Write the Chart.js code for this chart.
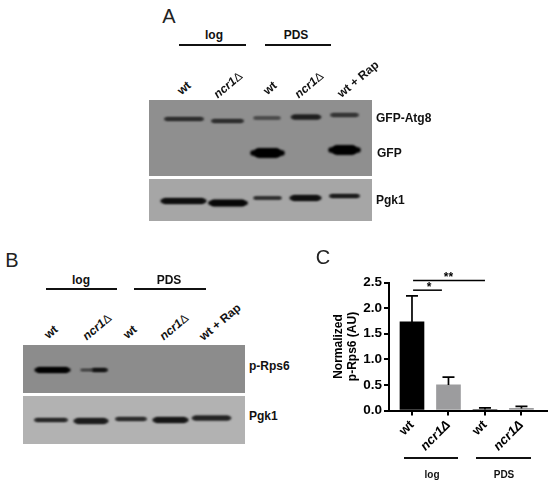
<!DOCTYPE html>
<html>
<head>
<meta charset="utf-8">
<title>Blots and p-Rps6</title>
<script src="https://cdn.jsdelivr.net/npm/chart.js@4"></script>
<style>
  body { margin: 0; background: #fff; width: 550px; height: 483px; position: relative; overflow: hidden; font-family: "Liberation Sans", Arial, sans-serif; }
  canvas { position: absolute; }
  .t { position: absolute; font-weight: bold; font-size: 12px; color: #111; white-space: nowrap; transform: translate(-50%, -50%); }
  .l { transform: translate(0, -50%); }
  .r { transform: translate(-50%, -50%) rotate(-40deg); }
  .letter { font-weight: normal; font-size: 20px; color: #222; }
  .rule { position: absolute; background: #111; height: 1.5px; }
  i span { font-style: normal; font-weight: normal; }
</style>
</head>
<body>
<canvas id="blotA1" width="223" height="76" style="left:149px;top:100px"></canvas>
<canvas id="blotA2" width="223" height="42" style="left:149px;top:179px"></canvas>
<canvas id="blotB1" width="222" height="48" style="left:23px;top:345px"></canvas>
<canvas id="blotB2" width="222" height="48" style="left:23px;top:396px"></canvas>
<canvas id="quant" width="230" height="243" style="left:320px;top:240px"></canvas>

<script>
// ---------- panel C values ----------
const categories = ['wt', 'ncr1Δ', 'wt', 'ncr1Δ'];
const means = [1.73, 0.50, 0.02, 0.04];
const upperErrors = [2.24, 0.65, 0.05, 0.08];
const barColors = ['#000000', '#9c9c9e', '#000000', '#9c9c9e'];
const yTicks = [0, 0.5, 1, 1.5, 2, 2.5];

// significance brackets, in category index / axis units
const sigLong = [{x: 0.03, y: 2.54}, {x: 2, y: 2.54}];
const sigShort = [{x: 0.03, y: 2.35}, {x: 0.82, y: 2.35}];

// ---------- blots: lane start, lane end, migration, band thickness, band grey ----------
const a1Start = [15, 62, 104, 142, 181, 103, 181];
const a1End = [55, 95, 132, 172, 210, 134, 210];
const a1Level = [19, 21, 18, 17, 15, 53, 50];
const a1Thick = [4, 4, 3, 5, 4, 10, 10];
const a1Grey = ['#2c2c2c', '#2c2c2c', '#444444', '#1e1e1e', '#333333', '#000000', '#000000'];

const a2Start = [12, 60, 104, 141, 180];
const a2End = [57, 98, 133, 172, 211];
const a2Level = [22, 24, 19, 19, 17];
const a2Thick = [6, 7, 3, 6, 4];
const a2Grey = ['#0e0e0e', '#080808', '#222222', '#111111', '#1a1a1a'];

const b1Start = [12, 57, 68];
const b1End = [47, 70, 85];
const b1Level = [25, 25, 25];
const b1Thick = [6, 2, 4];
const b1Grey = ['#020202', '#333333', '#111111'];

const b2Start = [11, 51, 92, 130, 169];
const b2End = [45, 85, 124, 165, 208];
const b2Level = [24, 25, 23, 24, 22];
const b2Thick = [4, 6, 4, 6, 5];
const b2Grey = ['#262626', '#1c1c1c', '#2a2a2a', '#161616', '#222222'];

// each band is a thin full-length stroke plus a thicker core, so the ends taper a little
function bandSets(start, end, level, thick, grey) {
    const sets = [];
    start.forEach(function(s, i) {
        const t = thick[i];
        const inset = t * 0.65 + 0.5;
        const base = { borderColor: grey[i], borderCapStyle: 'round', pointRadius: 0 };
        sets.push(Object.assign({}, base, {
            data: [{x: s + 1, y: level[i]}, {x: end[i] - 1, y: level[i]}],
            borderWidth: t * 0.55
        }));
        sets.push(Object.assign({}, base, {
            data: [{x: s + inset, y: level[i]}, {x: end[i] - inset, y: level[i]}],
            borderWidth: t
        }));
    });
    return sets;
}

function blot(id, bg, start, end, level, thick, grey) {
    const cv = document.getElementById(id);
    new Chart(cv, {
        type: 'line',
        data: { datasets: bandSets(start, end, level, thick, grey) },
        options: {
            responsive: false,
            animation: false,
            layout: { padding: 0 },
            plugins: { legend: { display: false }, tooltip: { enabled: false } },
            scales: {
                x: { type: 'linear', min: 0, max: cv.width, display: false },
                y: { type: 'linear', min: 0, max: cv.height, reverse: true, display: false }
            }
        },
        plugins: [{
            id: 'film',
            beforeDraw(chart) {
                chart.ctx.save();
                chart.ctx.fillStyle = bg;
                chart.ctx.fillRect(0, 0, chart.width, chart.height);
                chart.ctx.restore();
            },
            beforeDatasetsDraw(chart) {
                chart.ctx.save();
                chart.ctx.filter = 'blur(1px)';
            },
            afterDatasetsDraw(chart) {
                chart.ctx.restore();
            }
        }]
    });
}

blot('blotA1', '#8f8f8f', a1Start, a1End, a1Level, a1Thick, a1Grey);
blot('blotA2', '#a6a6a6', a2Start, a2End, a2Level, a2Thick, a2Grey);
blot('blotB1', '#8c8c8c', b1Start, b1End, b1Level, b1Thick, b1Grey);
blot('blotB2', '#b2b2b2', b2Start, b2End, b2Level, b2Thick, b2Grey);

// ---------- panel C ----------
const errorBars = {
    id: 'errorBars',
    afterDatasetsDraw(chart) {
        const ctx = chart.ctx, x = chart.scales.x, y = chart.scales.y;
        ctx.save();
        ctx.strokeStyle = '#000';
        ctx.lineWidth = 1.7;
        upperErrors.forEach(function(top, i) {
            const px = x.getPixelForValue(i);
            const py = y.getPixelForValue(top);
            ctx.beginPath();
            ctx.moveTo(px, y.getPixelForValue(means[i]));
            ctx.lineTo(px, py);
            ctx.moveTo(px - 6, py);
            ctx.lineTo(px + 6, py);
            ctx.stroke();
        });
        ctx.fillStyle = '#000';
        ctx.font = 'bold 12px "Liberation Sans"';
        ctx.textAlign = 'center';
        ctx.fillText('**', x.getPixelForValue(1), y.getPixelForValue(2.54) + 1);
        ctx.fillText('*', x.getPixelForValue(0.47), y.getPixelForValue(2.35) + 1);
        ctx.restore();
    }
};

new Chart(document.getElementById('quant'), {
    type: 'bar',
    data: {
        datasets: [
            { data: categories.map(function(c, i) { return {x: i, y: means[i]}; }), backgroundColor: barColors, barThickness: 24 },
            { type: 'line', data: sigLong, borderColor: '#000', borderWidth: 1.5, pointRadius: 0, clip: false },
            { type: 'line', data: sigShort, borderColor: '#000', borderWidth: 1.5, pointRadius: 0, clip: false }
        ]
    },
    options: {
        responsive: false,
        animation: false,
        layout: { padding: { left: 12, top: 42.5, right: 3, bottom: 0 } },
        plugins: { legend: { display: false }, tooltip: { enabled: false } },
        scales: {
            x: {
                type: 'linear',
                offset: false,
                min: -0.63,
                max: 3.7,
                afterBuildTicks(axis) { axis.ticks = categories.map(function(c, i) { return {value: i}; }); },
                afterFit(axis) { axis.height = 72.5; axis.paddingLeft = 0; axis.paddingRight = 0; },
                border: { color: '#000', width: 2 },
                grid: { offset: false, drawOnChartArea: false, color: '#000', lineWidth: 2, tickLength: 5 },
                ticks: {
                    color: '#000',
                    autoSkip: false,
                    minRotation: 45,
                    maxRotation: 45,
                    padding: 2,
                    callback(value) { return categories[value]; },
                    font(ctx) {
                        const italic = categories[ctx.index] !== 'wt';
                        return { family: '"Liberation Sans"', size: 13, weight: 'bold', style: italic ? 'italic' : 'normal' };
                    }
                }
            },
            y: {
                min: 0,
                max: 2.5,
                afterBuildTicks(axis) { axis.ticks = yTicks.map(function(v) { return {value: v}; }); },
                afterFit(axis) { axis.width = 57; },
                border: { color: '#000', width: 2 },
                grid: { drawOnChartArea: false, color: '#000', lineWidth: 2, tickLength: 5 },
                ticks: {
                    color: '#000',
                    padding: 2,
                    font: { family: '"Liberation Sans"', size: 13.5, weight: 'bold' },
                    callback(value) { return value.toFixed(1); }
                },
                title: {
                    display: true,
                    text: ['Normalized', 'p-Rps6 (AU)'],
                    color: '#000',
                    padding: 0,
                    font: { family: '"Liberation Sans"', size: 12, weight: 'bold', lineHeight: 1.15 }
                }
            }
        }
    },
    plugins: [errorBars]
});

// ---------- labels round the blots ----------
function label(html, x, y, cls, size) {
    const d = document.createElement('div');
    d.className = 't ' + (cls || '');
    d.innerHTML = html;
    d.style.left = x + 'px';
    d.style.top = y + 'px';
    if (size) d.style.fontSize = size + 'px';
    document.body.appendChild(d);
}
function rule(x0, x1, y) {
    const d = document.createElement('div');
    d.className = 'rule';
    d.style.left = x0 + 'px';
    d.style.width = (x1 - x0) + 'px';
    d.style.top = y + 'px';
    document.body.appendChild(d);
}

const ncr = '<i>ncr1<span>Δ</span></i>';

label('A', 169, 16, 'letter');
label('B', 12, 260, 'letter');
label('C', 323, 257, 'letter');

label('log', 214, 35); label('PDS', 296, 35);
rule(179, 246, 44); rule(265, 331, 44);
label('wt', 184, 88, 'r'); label(ncr, 228, 85, 'r'); label('wt', 270, 88, 'r');
label(ncr, 309, 85, 'r'); label('wt + Rap', 358, 79, 'r');
label('GFP-Atg8', 376, 118, 'l'); label('GFP', 377, 153, 'l'); label('Pgk1', 376, 200, 'l');

label('log', 81, 280); label('PDS', 169, 280);
rule(46, 117, 288); rule(134, 206, 288);
label('wt', 51, 332, 'r'); label(ncr, 97, 327, 'r'); label('wt', 130, 332, 'r');
label(ncr, 174, 327, 'r'); label('wt + Rap', 220, 322, 'r');
label('p-Rps6', 249, 366, 'l'); label('Pgk1', 249, 416, 'l');

rule(404, 458, 457); rule(476, 531, 457);
label('log', 432, 474, '', 10); label('PDS', 504, 474, '', 10);
</script>
</body>
</html>
